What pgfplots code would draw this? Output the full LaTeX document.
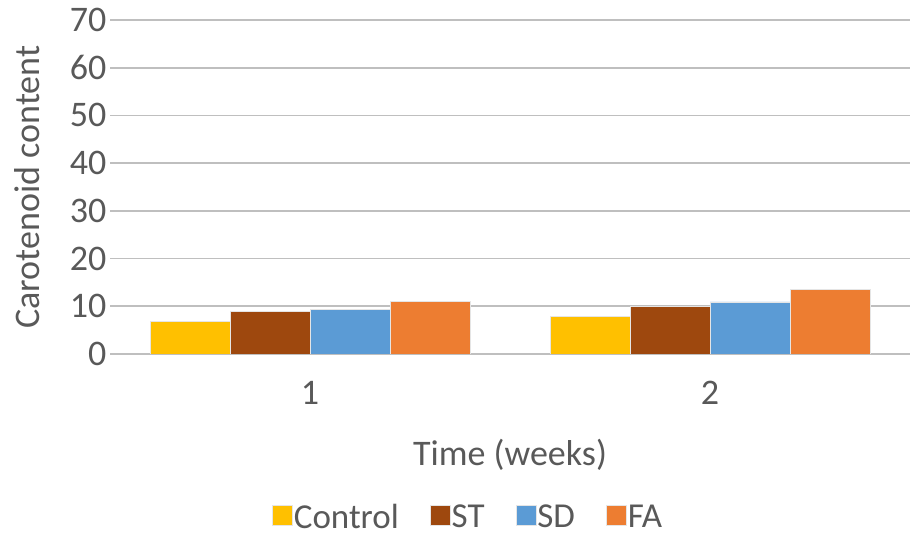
\documentclass[border=0pt]{standalone}
\usepackage{pgfplots}
\pgfplotsset{compat=1.18}
\usepackage{fontspec}
\setmainfont{Carlito}
\definecolor{txt}{HTML}{595959}
\definecolor{grid}{HTML}{BFBFBF}
\definecolor{cControl}{HTML}{FFC000}
\definecolor{cST}{HTML}{9E480E}
\definecolor{cSD}{HTML}{5B9BD5}
\definecolor{cFA}{HTML}{ED7D31}
\begin{document}
\begin{tikzpicture}[x=1pt,y=1pt]
\useasboundingbox (0,0) rectangle (912,540);
\begin{axis}[
  at={(110pt,186pt)}, anchor=south west,
  scale only axis, width=800pt, height=334pt,
  ybar=0pt, bar width=0.2,
  xmin=-0.5, xmax=1.5, ymin=0, ymax=70,
  xtick={0,1}, xticklabels={1,2},
  ytick={0,10,...,70},
  /pgf/number format/assume math mode=true,
  ymajorgrids, xmajorgrids=false, grid style={grid, line width=1.6pt},
  axis x line*=bottom, axis y line*=left,
  x axis line style={grid, line width=1.6pt, -},
  y axis line style={draw=none},
  major tick length=0pt,
  every tick label/.append style={font=\fontsize{36}{42}\selectfont, text=txt},
  yticklabel style={xshift=0pt},
  xticklabel style={yshift=-24pt},
  xlabel={Time (weeks)}, ylabel={Carotenoid content},
  label style={font=\fontsize{36}{42}\selectfont, text=txt},
  xlabel style={yshift=-27pt},
  ylabel style={at={(axis description cs:-0.104,0.5)}, anchor=center},
  legend style={at={(0.447,-0.445)}, anchor=north, draw=none, legend columns=4,
    inner sep=0pt, font=\fontsize{35}{35}\selectfont, text=txt,
    nodes={inner sep=1pt},
    /tikz/every even column/.append style={column sep=30pt}},
  legend image code/.code={\fill[#1] (0pt,-9pt) rectangle (20pt,11pt);},
  legend cell align=left,
]
\addplot[fill=cControl, draw=white!80!gray, line width=0.8pt] coordinates {(0,6.9) (1,7.8)};
\addplot[fill=cST, draw=white!80!gray, line width=0.8pt] coordinates {(0,9.0) (1,9.9)};
\addplot[fill=cSD, draw=white!80!gray, line width=0.8pt] coordinates {(0,9.3) (1,10.9)};
\addplot[fill=cFA, draw=white!80!gray, line width=0.8pt] coordinates {(0,11.0) (1,13.5)};
\legend{Control,ST,SD,FA}
\end{axis}
\end{tikzpicture}
\end{document}
